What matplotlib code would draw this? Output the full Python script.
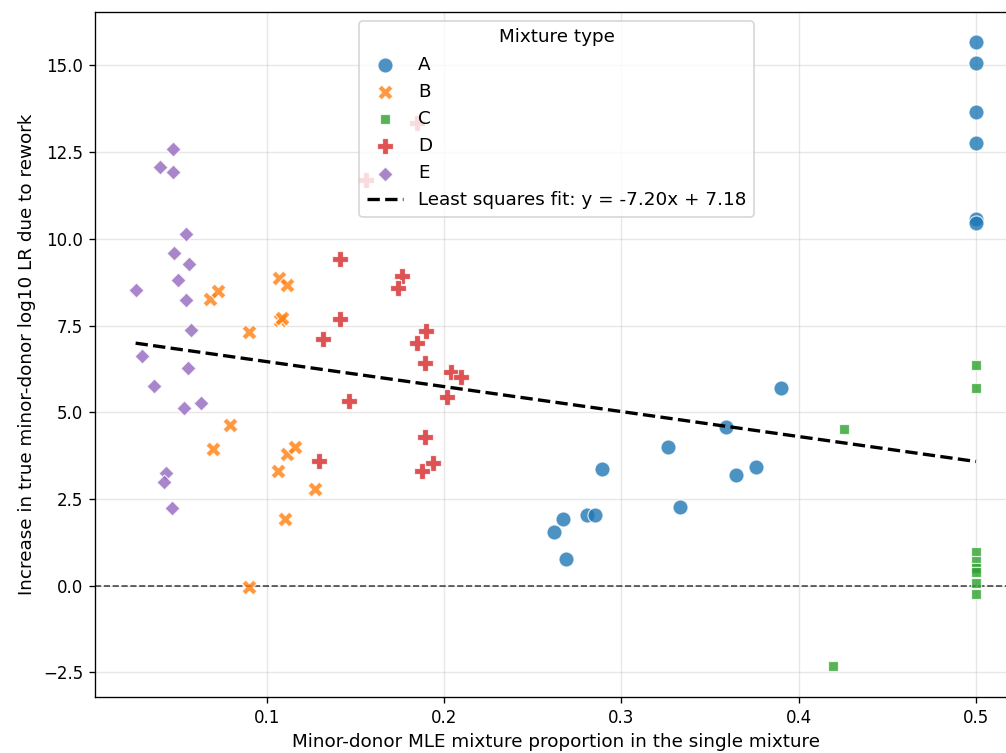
import matplotlib
matplotlib.use("Agg")
import matplotlib.pyplot as plt
import numpy as np

# Minor-donor MLE mixture proportion (x) and increase in log10 LR (y), per mixture type
a_x = [0.5, 0.5, 0.5, 0.5, 0.5, 0.5, 0.3901, 0.359, 0.3265, 0.376, 0.3649,
       0.2893, 0.3333, 0.2805, 0.2852, 0.2673, 0.262, 0.2688]
a_y = [15.67, 15.07, 13.66, 12.75, 10.57, 10.47, 5.69, 4.57, 4.01, 3.43, 3.19,
       3.36, 2.28, 2.04, 2.04, 1.92, 1.56, 0.76]

b_x = [0.0695, 0.0682, 0.0724, 0.0795, 0.09, 0.09, 0.1062, 0.1071, 0.1113,
       0.1075, 0.1085, 0.1113, 0.116, 0.1274, 0.1103]
b_y = [3.93, 8.27, 8.51, 4.63, 7.31, -0.05, 3.32, 8.86, 8.67,
       7.66, 7.71, 3.80, 3.99, 2.80, 1.91]

c_x = [0.5, 0.5, 0.4255, 0.5, 0.5, 0.5, 0.5, 0.5, 0.5, 0.4196]
c_y = [6.37, 5.71, 4.51, 0.97, 0.72, 0.52, 0.39, 0.09, -0.24, -2.32]

d_x = [0.1846, 0.1558, 0.1413, 0.1761, 0.1742, 0.1413, 0.1316, 0.1897, 0.1846,
       0.1891, 0.2041, 0.2096, 0.2015, 0.1462, 0.1891, 0.1297, 0.194, 0.1878]
d_y = [13.35, 11.70, 9.41, 8.94, 8.59, 7.69, 7.10, 7.35, 7.01,
       6.43, 6.16, 6.03, 5.45, 5.31, 4.30, 3.60, 3.53, 3.32]

e_x = [0.0473, 0.0398, 0.0473, 0.0543, 0.0477, 0.0563, 0.05, 0.0261, 0.0543,
       0.0575, 0.0295, 0.0554, 0.0363, 0.0631, 0.0535, 0.0432, 0.0419, 0.0466]
e_y = [12.58, 12.06, 11.92, 10.14, 9.58, 9.28, 8.81, 8.52, 8.24,
       7.37, 6.62, 6.27, 5.76, 5.28, 5.12, 3.24, 3.00, 2.25]

mixture_types = ["A", "B", "C", "D", "E"]
fit_slope = -7.20
fit_intercept = 7.18

groups = [(a_x, a_y), (b_x, b_y), (c_x, c_y), (d_x, d_y), (e_x, e_y)]
markers = ["o", "X", (4, 0, 45), "P", (4, 0, 0)]
colors = ["#1f77b4", "#ff7f0e", "#2ca02c", "#d62728", "#9467bd"]

fig = plt.figure(figsize=(1006 / 120, 753 / 120), dpi=120)
ax = fig.add_axes([95 / 1006, 56 / 753, 923 / 1006, 685 / 753])

size = 82
for (gx, gy), name, mk, col in zip(groups, mixture_types, markers, colors):
    ax.scatter(gx, gy, s=size, marker=mk, color=col, alpha=0.8,
               edgecolor="white", linewidth=0.08 * np.sqrt(size), label=name, zorder=3)

all_x = np.concatenate([np.asarray(g[0]) for g in groups])
fit_x = np.array([all_x.min(), all_x.max()])
ax.plot(fit_x, fit_slope * fit_x + fit_intercept, color="black", linestyle="--",
        linewidth=2, label=f"Least squares fit: y = {fit_slope:.2f}x + {fit_intercept:.2f}",
        zorder=4)
ax.axhline(0, color="black", linestyle="--", linewidth=1, alpha=0.7, zorder=2)

ax.set_xlim(0.0032, 0.5237)
ax.set_ylim(-3.21, 16.54)
ax.set_xlabel("Minor-donor MLE mixture proportion in the single mixture", fontsize=11)
ax.set_ylabel("Increase in true minor-donor log10 LR due to rework", fontsize=11)
ax.grid(True, alpha=0.3)
ax.legend(title="Mixture type", loc="upper center", fontsize=11, title_fontsize=11)

fig.savefig("out.png", dpi=120)
